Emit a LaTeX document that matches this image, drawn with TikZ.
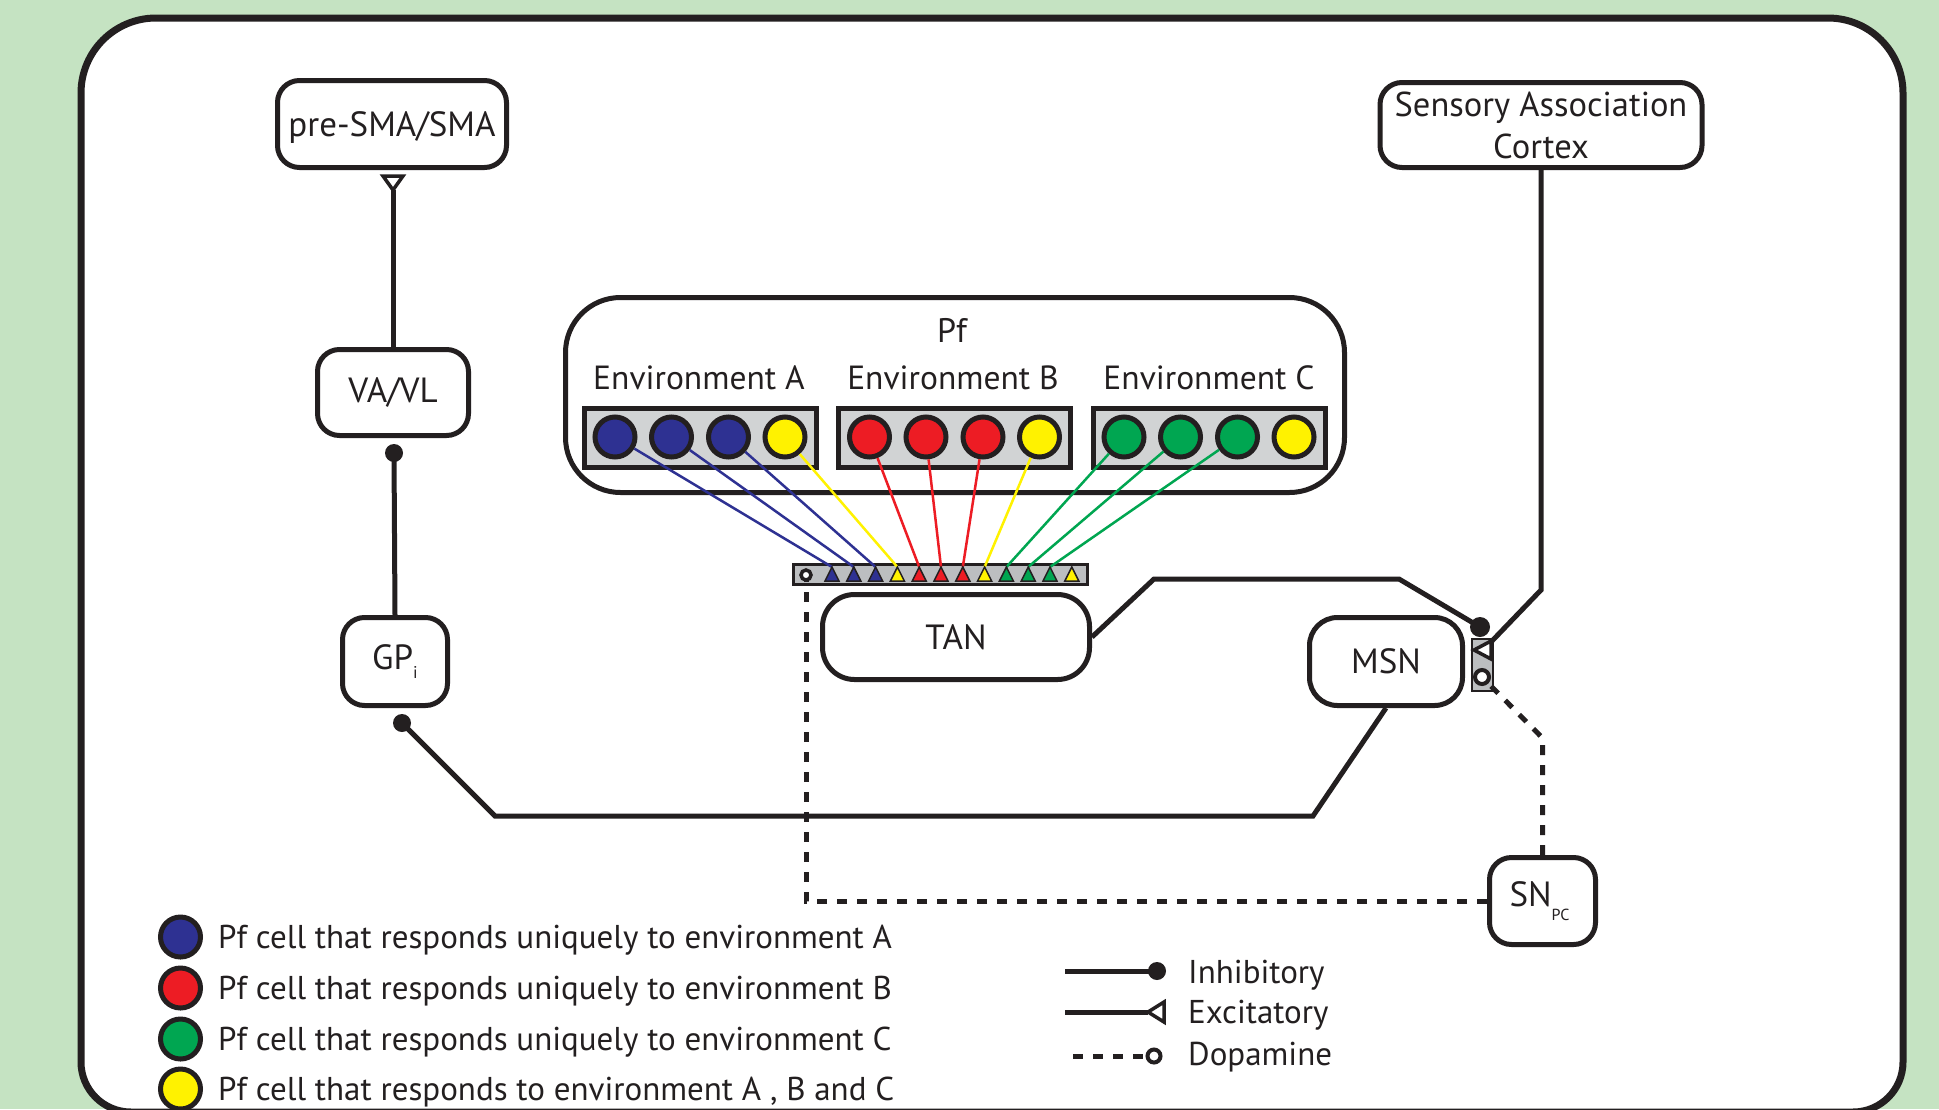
\documentclass[tikz,border=0pt]{standalone}
\usepackage{fontspec}
\setmainfont{PT Sans}
\usetikzlibrary{calc}
\definecolor{ink}{HTML}{231F20}
\definecolor{bgc}{RGB}{197,227,194}
\definecolor{cellgray}{HTML}{D1D3D4}
\definecolor{bargray}{HTML}{BCBEC0}
\definecolor{cblue}{HTML}{2E3192}
\definecolor{cred}{HTML}{ED1C24}
\definecolor{cgreen}{HTML}{00A651}
\definecolor{cyellow}{HTML}{FFF200}
\newcommand\labf{\fontsize{33}{40}\selectfont}
\newcommand\boxf{\fontsize{35}{42}\selectfont}
\begin{document}
\begin{tikzpicture}[x=1pt,y=-1pt,
  box/.style={draw=ink, line width=5pt, fill=white, rounded corners=22pt, inner sep=0pt, text=ink, font=\boxf},
  conn/.style={draw=ink, line width=5pt},
  dop/.style={draw=ink, line width=5pt, dash pattern=on 10pt off 10pt},
  inh/.style={fill=ink},
  dopc/.style={draw=ink, fill=white, line width=4pt},
  extri/.style={draw=ink, fill=white, line width=3.5pt, line join=miter},
  cellbox/.style={draw=ink, line width=5pt, fill=cellgray, inner sep=0pt, minimum width=232pt, minimum height=59pt},
  cell/.style={circle, draw=ink, line width=5pt, minimum size=40pt, inner sep=0pt},
  fib/.style={line width=2.5pt},
  tri/.style={draw=ink, line width=1.5pt, line join=miter},
  lab/.style={font=\labf, text=ink, inner sep=0pt},
]
\useasboundingbox (0,0) rectangle (1939,1109);
\clip (0,0) rectangle (1939,1109);
\fill[bgc] (0,0) rectangle (1939,1109);
% frame
\draw[line width=7pt, draw=ink, fill=white] (81,1062) -- (81,93) arc[start angle=180, end angle=270, radius=75] -- (1828,18) arc[start angle=270,end angle=360,radius=75] -- (1903,1062) arc[start angle=0,end angle=90,radius=50] -- (131,1112) arc[start angle=90,end angle=180,radius=50] -- cycle;

% boxes
\node[box, text height=25pt, text depth=0pt, minimum width=229pt, minimum height=87pt] (presma) at (392,124) {pre-SMA/SMA};
\node[box, minimum width=151pt, minimum height=86pt] (vavl) at (393,392.5) {VA/VL};
\node[box, minimum width=105pt, minimum height=88pt] (gpi) at (395,661.5) {GP\raisebox{-9pt}{\fontsize{17}{17}\selectfont i}};
\node[box, rounded corners=32pt, minimum width=267pt, minimum height=85pt] (tan) at (956,637) {TAN};
\node[box, rounded corners=28pt, minimum width=153pt, minimum height=88pt] (msn) at (1386,661.5) {MSN};
\node[box, align=center, font=\fontsize{34.5}{42}\selectfont, minimum width=322pt, minimum height=85pt] (sens) at (1541,125) {Sensory Association\\Cortex};
\node[box, minimum width=106pt, minimum height=87pt] (snpc) at (1542.5,901) {\hspace*{-6pt}SN\raisebox{-14pt}{\fontsize{16}{16}\selectfont PC}};
\node[box, rounded corners=55pt, minimum width=779pt, minimum height=195pt] (pf) at (955,395) {};
\node[lab, font=\fontsize{34}{40}\selectfont] (pflab) at (952,330) {Pf};
\node[lab, font=\fontsize{33.5}{40}\selectfont] (envA) at (699,378) {Environment A};
\node[lab, font=\fontsize{33.5}{40}\selectfont] (envB) at (953,378) {Environment B};
\node[lab, font=\fontsize{33.5}{40}\selectfont] (envC) at (1209,378) {Environment C};

% cell groups
\foreach \g/\gx/\col in {a/700/cblue, b/954.5/cred, c/1209/cgreen}{
  \node[cellbox] (box\g) at (\gx,438) {};
  \foreach \o [count=\k] in {-85,-28.5,28.5} \node[cell, fill=\col] (\g\k) at (\gx+\o,437) {};
  \node[cell, fill=cyellow] (\g4) at (\gx+85,437) {};
}

% TAN input bar
\node[draw=ink, line width=3pt, fill=bargray, inner sep=0pt, minimum width=294pt, minimum height=20pt] (bar) at (940.5,574.5) {};
\foreach \k in {1,...,12} \coordinate (t\k) at ({832+21.8*(\k-1)},567);
\foreach \s/\k/\col in {a1/1/cblue, a2/2/cblue, a3/3/cblue, a4/4/cyellow, b1/5/cred, b2/6/cred, b3/7/cred, b4/8/cyellow, c1/9/cgreen, c2/10/cgreen, c3/11/cgreen}
  \draw[fib, \col] (\s) -- (t\k);
\foreach \col [count=\k] in {cblue,cblue,cblue,cyellow,cred,cred,cred,cyellow,cgreen,cgreen,cgreen,cyellow}
  \filldraw[tri, fill=\col] (t\k) -- ++(-7,14) -- ++(14,0) -- cycle;

% MSN terminal block
\node[draw=ink, line width=2.5pt, fill=bargray, inner sep=0pt, minimum width=21pt, minimum height=52pt] (mterm) at (1482.5,665) {};

% named terminal points
\coordinate (ex1) at (393,190);
\coordinate (inh1) at (394,453);
\coordinate (inh2) at (402,723);
\coordinate (inh3) at (1480,627);
\coordinate (ex2) at (1474,650);
\coordinate (ex2b) at (1491,642);
\coordinate (dop1) at (806,575);
\coordinate (dop2) at (1482,677);

% dopamine connections
\draw[dop] (snpc.north) -- (1542.5,738) -- (dop2);
\draw[dop] (snpc.west) -- (snpc.west -| dop1) -- (dop1);

% solid connections
\draw[conn] (vavl.north) -- (ex1);
\draw[extri] (ex1) -- ++(-10,-14) -- ++(20,0) -- cycle;
\draw[conn] (gpi.north) -- (inh1);
\fill[inh] (inh1) circle (9);
\draw[conn] (msn.south) -- (1313,816) -- (495,816) -- (inh2);
\fill[inh] (inh2) circle (9);
\draw[conn] (tan.east) -- (1154,579) -- (1399,579) -- (inh3);
\fill[inh] (inh3) circle (10);
\draw[conn] (sens.south) -- (1541,590) -- (ex2b);
\draw[extri] (ex2) -- ++(17,-9) -- ++(0,18) -- cycle;
\draw[dopc] (dop2) circle (7);
\draw[dopc, line width=3.5pt] (dop1) circle (5);

% legend left
\foreach \y/\col/\txt in {937/cblue/{Pf cell that responds uniquely to environment A},
                          988/cred/{Pf cell that responds uniquely to environment B},
                          1039/cgreen/{Pf cell that responds uniquely to environment C},
                          1089/cyellow/{Pf cell that responds to environment A , B and C}}{
  \node[cell, fill=\col] (lc\y) at (180.5,\y) {};
  \node[lab, anchor=base west] (lt\y) at (218,\y+11) {\txt};
}

% legend right
\coordinate (l1s) at (1065,971); \coordinate (l1e) at (1157,971);
\coordinate (l2s) at (1065,1012); \coordinate (l2e) at (1148,1012);
\coordinate (l3s) at (1073,1056); \coordinate (l3e) at (1154,1056);
\draw[conn] (l1s) -- (l1e);
\fill[inh] (l1e) circle (9);
\draw[conn] (l2s) -- (l2e);
\draw[extri] (l2e) -- ++(16,-10) -- ++(0,20) -- cycle;
\draw[dop] (l3s) -- (l3e);
\draw[dopc] (l3e) circle (6.5);
\node[lab, anchor=base west] (li) at (1188,983) {Inhibitory};
\node[lab, anchor=base west] (le) at (1188,1023) {Excitatory};
\node[lab, anchor=base west] (ld) at (1188,1065) {Dopamine};
\end{tikzpicture}
\end{document}
